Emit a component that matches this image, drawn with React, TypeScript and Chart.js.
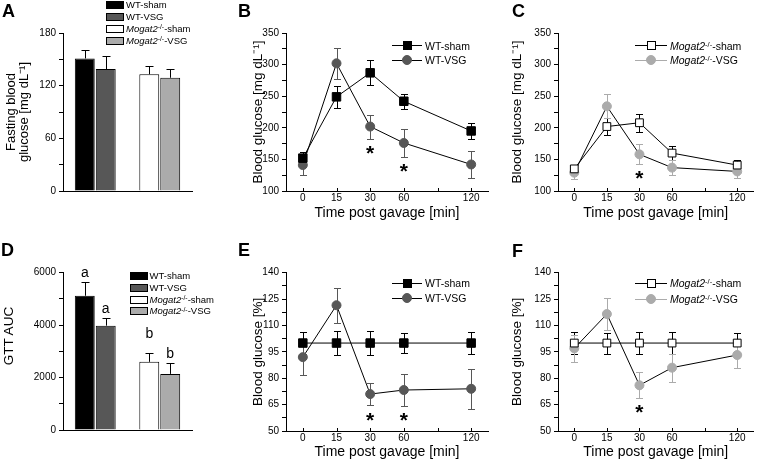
import React, { useEffect, useRef } from 'react';
import { Chart, registerables } from 'chart.js';

Chart.register(...registerables);

const FONT = '"Liberation Sans", Arial, Helvetica, sans-serif';
Chart.defaults.font.family = FONT;
Chart.defaults.color = '#000';

const DARK = '#575757';
const LIGHT = '#ababab';

// ---------- Panel A: fasting blood glucose ----------
const barGroups = ['WT', 'Mogat2-/-'];
const fastingSham = [151, 133];
const fastingShamErr = [10, 9];
const fastingVsg = [139, 129];
const fastingVsgErr = [15, 10];
const fastingTicks = [0, 30, 60, 90, 120, 150, 180];
const fastingMajor = [0, 60, 120, 180];

// ---------- Panel D: GTT AUC ----------
const aucSham = [5120, 2600];
const aucShamErr = [540, 320];
const aucVsg = [3980, 2140];
const aucVsgErr = [280, 430];
const aucShamLetters = ['a', 'b'];
const aucShamLetterY = [5850, 3500];
const aucVsgLetters = ['a', 'b'];
const aucVsgLetterY = [4450, 2760];
const aucTicks = [0, 1000, 2000, 3000, 4000, 5000, 6000];
const aucMajor = [0, 2000, 4000, 6000];

// ---------- time axis ----------
const timeLabels = ['0', '15', '30', '60', '120'];
const timeSlots = [0, 1, 2, 3, 5];
const timeTickSlots = [0, 1, 2, 3, 4, 5];

// ---------- Panel B: WT absolute ----------
const wtShamAbs = [152, 249, 287, 242, 195];
const wtShamAbsErr = [9, 17, 20, 12, 12];
const wtVsgAbs = [141, 302, 202, 176, 142];
const wtVsgAbsErr = [16, 25, 19, 22, 22];
const wtAbsStarSlots = [2, 3];
const wtAbsStarY = [169, 140];

// ---------- Panel C: Mogat2 absolute ----------
const koShamAbs = [135, 202, 208, 160, 141];
const koShamAbsErr = [6, 13, 14, 11, 8];
const koVsgAbs = [129, 234, 158, 137, 131];
const koVsgAbsErr = [10, 19, 16, 12, 10];
const koAbsStarSlots = [2];
const koAbsStarY = [129];

const absTicks = [100, 125, 150, 175, 200, 225, 250, 275, 300, 325, 350];
const absMajor = [100, 150, 200, 250, 300, 350];

// ---------- Panel E: WT percent ----------
const wtShamPct = [100, 100, 100, 100, 100];
const wtShamPctErr = [6.5, 7, 7, 5.5, 6.5];
const wtVsgPct = [92, 121.5, 71, 73.3, 74];
const wtVsgPctErr = [10, 10, 6.5, 9, 11.5];
const wtPctStarSlots = [2, 3];
const wtPctStarY = [59, 59];

// ---------- Panel F: Mogat2 percent ----------
const koShamPct = [100, 100, 100, 100, 100];
const koShamPctErr = [6.5, 6, 6.5, 6.5, 6];
const koVsgPct = [97, 116.5, 76, 86, 93.2];
const koVsgPctErr = [7.5, 9, 7.5, 8, 7.5];
const koPctStarSlots = [2];
const koPctStarY = [63.5];

const pctTicks = [50, 57.5, 65, 72.5, 80, 87.5, 95, 102.5, 110, 117.5, 125, 132.5, 140];
const pctMajor = [50, 65, 80, 95, 110, 125, 140];

// ---------- plugins ----------
function drawErrorBars(chart: any) {
  const ctx = chart.ctx;
  const yScale = chart.scales.y;
  chart.data.datasets.forEach((ds: any, i: number) => {
    if (!ds.errors) return;
    const meta = chart.getDatasetMeta(i);
    ctx.save();
    ctx.strokeStyle = ds.errColor || '#000';
    ctx.lineWidth = 1;
    meta.data.forEach((el: any, j: number) => {
      const raw = ds.data[j];
      const v = typeof raw === 'number' ? raw : raw.y;
      const e = ds.errors[j];
      const x = Math.round(el.x) + 0.5;
      const yTop = Math.round(yScale.getPixelForValue(v + e)) + 0.5;
      const yBot = ds.upOnly
        ? yScale.getPixelForValue(v)
        : Math.round(yScale.getPixelForValue(v - e)) + 0.5;
      const cap = (ds.capWidth || 7) / 2;
      ctx.beginPath();
      ctx.moveTo(x, yTop);
      ctx.lineTo(x, yBot);
      ctx.moveTo(x - cap, yTop);
      ctx.lineTo(x + cap, yTop);
      if (!ds.upOnly) {
        ctx.moveTo(x - cap, yBot);
        ctx.lineTo(x + cap, yBot);
      }
      ctx.stroke();
    });
    ctx.restore();
  });
}

const errorBarPlugin = {
  id: 'errorBars',
  beforeDatasetsDraw(chart: any, _a: any, opts: any) {
    if (opts && opts.phase === 'before') drawErrorBars(chart);
  },
  afterDatasetsDraw(chart: any, _a: any, opts: any) {
    if (!opts || opts.phase !== 'before') drawErrorBars(chart);
  },
};

const letterPlugin = {
  id: 'barLetters',
  afterDatasetsDraw(chart: any) {
    const ctx = chart.ctx;
    const yScale = chart.scales.y;
    chart.data.datasets.forEach((ds: any, i: number) => {
      if (!ds.letters) return;
      const meta = chart.getDatasetMeta(i);
      ctx.save();
      ctx.font = `14px ${FONT}`;
      ctx.fillStyle = '#000';
      ctx.textAlign = 'center';
      ctx.textBaseline = 'alphabetic';
      meta.data.forEach((el: any, j: number) => {
        ctx.fillText(ds.letters[j], el.x, yScale.getPixelForValue(ds.letterY[j]));
      });
      ctx.restore();
    });
  },
};

const starPlugin = {
  id: 'stars',
  afterDatasetsDraw(chart: any, _a: any, opts: any) {
    if (!opts || !opts.xs) return;
    const ctx = chart.ctx;
    const size = 21;
    ctx.save();
    ctx.font = `bold ${size}px ${FONT}`;
    ctx.fillStyle = '#000';
    ctx.textAlign = 'center';
    ctx.textBaseline = 'alphabetic';
    opts.xs.forEach((xv: number, i: number) => {
      const px = chart.scales.x.getPixelForValue(xv);
      const py = chart.scales.y.getPixelForValue(opts.ys[i]);
      ctx.fillText('*', px, py + size * 0.58);
    });
    ctx.restore();
  },
};

const innerTickPlugin = {
  id: 'innerXTicks',
  afterDraw(chart: any, _a: any, opts: any) {
    if (!opts || !opts.enabled) return;
    const ctx = chart.ctx;
    const xs = chart.scales.x;
    const bottom = chart.chartArea.bottom;
    ctx.save();
    ctx.strokeStyle = '#000';
    ctx.lineWidth = 1;
    ctx.beginPath();
    xs.ticks.forEach((t: any) => {
      const px = Math.round(xs.getPixelForValue(t.value)) + 0.5;
      ctx.moveTo(px, bottom);
      ctx.lineTo(px, bottom - 3);
    });
    ctx.stroke();
    ctx.restore();
  },
};

// ---------- axis builders ----------
function yAxis(o: any) {
  return {
    type: 'linear',
    min: o.min,
    max: o.max,
    afterBuildTicks: (s: any) => {
      s.ticks = o.ticks.map((v: number) => ({ value: v }));
    },
    afterFit: (s: any) => {
      s.width = o.width;
    },
    ticks: {
      autoSkip: false,
      padding: 3,
      color: '#000',
      font: { family: FONT, size: 10 },
      callback: (v: number) => (o.major.includes(v) ? String(v) : ''),
    },
    grid: {
      display: true,
      drawOnChartArea: false,
      drawTicks: true,
      tickLength: 4,
      tickColor: '#000',
      tickWidth: 1,
    },
    border: { display: true, color: '#000', width: 1 },
    title: {
      display: !!o.title,
      text: o.title || '',
      color: '#000',
      padding: 0,
      font: { family: FONT, size: o.titleSize || 13.5, lineHeight: o.titleLH || 1.2 },
    },
  };
}

const baseOptions = (padTop: number, padRight: number) => ({
  animation: false,
  responsive: false,
  maintainAspectRatio: false,
  events: [],
  layout: { padding: { top: padTop, right: padRight, left: 0, bottom: 0 } },
});

function makeBarConfig(p: any) {
  return {
    type: 'bar',
    data: {
      labels: barGroups,
      datasets: [
        {
          label: 'sham',
          data: p.sham,
          errors: p.shamErr,
          upOnly: true,
          capWidth: 8,
          errColor: '#000',
          backgroundColor: ['#000000', '#ffffff'],
          borderColor: '#000',
          borderWidth: 1,
          categoryPercentage: 0.65,
          barPercentage: 0.95,
          letters: p.shamLetters,
          letterY: p.shamLetterY,
        },
        {
          label: 'VSG',
          data: p.vsg,
          errors: p.vsgErr,
          upOnly: true,
          capWidth: 8,
          errColor: '#000',
          backgroundColor: [DARK, LIGHT],
          borderColor: '#000',
          borderWidth: 1,
          categoryPercentage: 0.65,
          barPercentage: 0.95,
          letters: p.vsgLetters,
          letterY: p.vsgLetterY,
        },
      ],
    },
    options: {
      ...baseOptions(p.padTop, p.padRight),
      plugins: { legend: { display: false }, tooltip: { enabled: false }, errorBars: { phase: 'after' } },
      scales: {
        x: {
          type: 'category',
          afterFit: (s: any) => {
            s.height = p.xHeight;
          },
          ticks: { display: false },
          grid: { display: false },
          border: { display: true, color: '#000', width: 1 },
        },
        y: yAxis({
          min: p.yMin,
          max: p.yMax,
          ticks: p.yTicks,
          major: p.yMajor,
          width: p.yWidth,
          title: p.yTitle,
          titleSize: p.titleSize,
          titleLH: p.titleLH,
        }),
      },
    },
    plugins: [errorBarPlugin, letterPlugin],
  };
}

function makeLineConfig(p: any) {
  return {
    type: 'line',
    data: {
      datasets: [
        {
          label: p.shamLabel,
          data: timeSlots.map((x, i) => ({ x, y: p.sham[i] })),
          errors: p.shamErr,
          errColor: '#000',
          capWidth: 7,
          borderColor: '#000',
          borderWidth: 1,
          pointStyle: 'rect',
          pointRadius: p.shamRadius,
          pointBackgroundColor: p.shamFill,
          pointBorderColor: '#000',
          pointBorderWidth: 1,
          tension: 0,
          fill: false,
        },
        {
          label: p.vsgLabel,
          data: timeSlots.map((x, i) => ({ x, y: p.vsg[i] })),
          errors: p.vsgErr,
          errColor: p.vsgColor,
          capWidth: 7,
          borderColor: '#000',
          borderWidth: 1,
          pointStyle: 'circle',
          pointRadius: 4.5,
          pointBackgroundColor: p.vsgColor,
          pointBorderColor: p.vsgColor,
          pointBorderWidth: 1,
          tension: 0,
          fill: false,
        },
      ],
    },
    options: {
      ...baseOptions(p.padTop, p.padRight),
      plugins: {
        legend: { display: false },
        tooltip: { enabled: false },
        errorBars: { phase: 'before' },
        stars: { xs: p.starX, ys: p.starY },
        innerXTicks: { enabled: true },
      },
      scales: {
        x: {
          type: 'linear',
          min: -0.5,
          max: 5.5,
          afterBuildTicks: (s: any) => {
            s.ticks = timeTickSlots.map((v) => ({ value: v }));
          },
          afterFit: (s: any) => {
            s.height = p.xHeight;
          },
          ticks: {
            autoSkip: false,
            padding: 1,
            color: '#000',
            font: { family: FONT, size: 10 },
            callback: (v: number) => {
              const k = timeSlots.indexOf(v);
              return k >= 0 ? timeLabels[k] : '';
            },
          },
          grid: { display: true, drawOnChartArea: false, drawTicks: false },
          border: { display: true, color: '#000', width: 1 },
          title: {
            display: true,
            text: 'Time post gavage [min]',
            color: '#000',
            padding: 0,
            font: { family: FONT, size: 14 },
          },
        },
        y: yAxis({
          min: p.yMin,
          max: p.yMax,
          ticks: p.yTicks,
          major: p.yMajor,
          width: p.yWidth,
          title: p.yTitle,
        }),
      },
    },
    plugins: [errorBarPlugin, starPlugin, innerTickPlugin],
  };
}

// ---------- components ----------
function ChartCanvas({ x, y, w, h, config }: any) {
  const ref = useRef<HTMLCanvasElement | null>(null);
  useEffect(() => {
    const chart = new Chart(ref.current as HTMLCanvasElement, config as any);
    return () => chart.destroy();
  }, []);
  return (
    <canvas
      ref={ref}
      width={w}
      height={h}
      style={{ position: 'absolute', left: x, top: y, width: w, height: h }}
    />
  );
}

const supStyle: any = { fontSize: '0.72em', position: 'relative', top: '-0.4em' };

function KoName({ suffix }: any) {
  return (
    <span>
      <i>Mogat2</i>
      <span style={supStyle}>-/-</span>
      {suffix}
    </span>
  );
}

const barLegendItems = [
  { fill: '#000000', label: <span>WT-sham</span> },
  { fill: DARK, label: <span>WT-VSG</span> },
  { fill: '#ffffff', label: <KoName suffix="-sham" /> },
  { fill: LIGHT, label: <KoName suffix="-VSG" /> },
];

function BarLegend({ boxX, textX, y0, step }: any) {
  return (
    <>
      {barLegendItems.map((it, i) => (
        <React.Fragment key={i}>
          <div
            style={{
              position: 'absolute',
              left: boxX,
              top: y0 + i * step - 4,
              width: 18,
              height: 8,
              boxSizing: 'border-box',
              border: '1px solid #000',
              background: it.fill,
            }}
          />
          <div
            style={{
              position: 'absolute',
              left: textX,
              top: y0 + i * step - 6,
              height: 12,
              lineHeight: '12px',
              fontSize: 9.5,
              fontFamily: FONT,
              whiteSpace: 'nowrap',
              color: '#000',
            }}
          >
            {it.label}
          </div>
        </React.Fragment>
      ))}
    </>
  );
}

function LineLegend({ x0, x1, textX, rows }: any) {
  const mx = (x0 + x1) / 2;
  return (
    <>
      {rows.map((r: any, i: number) => (
        <React.Fragment key={i}>
          <div
            style={{
              position: 'absolute',
              left: x0,
              top: r.y - 0.5,
              width: x1 - x0,
              height: 1,
              background: r.lineColor,
            }}
          />
          <div
            style={{
              position: 'absolute',
              left: mx - r.size / 2,
              top: r.y - r.size / 2,
              width: r.size,
              height: r.size,
              boxSizing: 'border-box',
              border: `1px solid ${r.stroke}`,
              background: r.fill,
              borderRadius: r.circle ? '50%' : 0,
            }}
          />
          <div
            style={{
              position: 'absolute',
              left: textX,
              top: r.y - 6,
              height: 12,
              lineHeight: '12px',
              fontSize: 10.5,
              fontFamily: FONT,
              whiteSpace: 'nowrap',
              color: '#000',
            }}
          >
            {r.label}
          </div>
        </React.Fragment>
      ))}
    </>
  );
}

function PanelLetter({ x, y, text }: any) {
  return (
    <div
      style={{
        position: 'absolute',
        left: x,
        top: y,
        fontFamily: FONT,
        fontWeight: 'bold',
        fontSize: 18,
        lineHeight: '20px',
        color: '#000',
      }}
    >
      {text}
    </div>
  );
}

function RotatedTitle({ cx, cy, text, size }: any) {
  return (
    <div
      style={{
        position: 'absolute',
        left: cx,
        top: cy,
        transform: 'translate(-50%, -50%) rotate(-90deg)',
        fontFamily: FONT,
        fontSize: size,
        lineHeight: '16px',
        whiteSpace: 'nowrap',
        color: '#000',
      }}
    >
      {text}
    </div>
  );
}

const absTitle = 'Blood glucose [mg dL\u207B\u00B9]';
const pctTitle = 'Blood glucose [%]';
const aucTitle = 'GTT AUC';

export default function App() {
  const cfgA = makeBarConfig({
    sham: fastingSham,
    shamErr: fastingShamErr,
    vsg: fastingVsg,
    vsgErr: fastingVsgErr,
    yMin: 0,
    yMax: 180,
    yTicks: fastingTicks,
    yMajor: fastingMajor,
    yWidth: 58,
    yTitle: ['Fasting blood', 'glucose [mg dL\u207B\u00B9]'],
    titleSize: 13,
    titleLH: 1.0,
    padTop: 33,
    padRight: 12,
    xHeight: 39,
  });
  const cfgD = makeBarConfig({
    sham: aucSham,
    shamErr: aucShamErr,
    vsg: aucVsg,
    vsgErr: aucVsgErr,
    shamLetters: aucShamLetters,
    shamLetterY: aucShamLetterY,
    vsgLetters: aucVsgLetters,
    vsgLetterY: aucVsgLetterY,
    yMin: 0,
    yMax: 6000,
    yTicks: aucTicks,
    yMajor: aucMajor,
    yWidth: 63,
    yTitle: '',
    padTop: 32.7,
    padRight: 12,
    xHeight: 31,
  });
  const cfgB = makeLineConfig({
    shamLabel: 'WT-sham',
    vsgLabel: 'WT-VSG',
    sham: wtShamAbs,
    shamErr: wtShamAbsErr,
    vsg: wtVsgAbs,
    vsgErr: wtVsgAbsErr,
    shamFill: '#000',
    shamRadius: 6,
    vsgColor: DARK,
    starX: wtAbsStarSlots,
    starY: wtAbsStarY,
    yMin: 100,
    yMax: 350,
    yTicks: absTicks,
    yMajor: absMajor,
    yWidth: 36,
    yTitle: absTitle,
    padTop: 33,
    padRight: 17,
    xHeight: 31,
  });
  const cfgC = makeLineConfig({
    shamLabel: 'Mogat2-/--sham',
    vsgLabel: 'Mogat2-/--VSG',
    sham: koShamAbs,
    shamErr: koShamAbsErr,
    vsg: koVsgAbs,
    vsgErr: koVsgAbsErr,
    shamFill: '#fff',
    shamRadius: 5.5,
    vsgColor: LIGHT,
    starX: koAbsStarSlots,
    starY: koAbsStarY,
    yMin: 100,
    yMax: 350,
    yTicks: absTicks,
    yMajor: absMajor,
    yWidth: 49,
    yTitle: absTitle,
    padTop: 33,
    padRight: 2,
    xHeight: 31,
  });
  const cfgE = makeLineConfig({
    shamLabel: 'WT-sham',
    vsgLabel: 'WT-VSG',
    sham: wtShamPct,
    shamErr: wtShamPctErr,
    vsg: wtVsgPct,
    vsgErr: wtVsgPctErr,
    shamFill: '#000',
    shamRadius: 6,
    vsgColor: DARK,
    starX: wtPctStarSlots,
    starY: wtPctStarY,
    yMin: 50,
    yMax: 140,
    yTicks: pctTicks,
    yMajor: pctMajor,
    yWidth: 36,
    yTitle: pctTitle,
    padTop: 32.7,
    padRight: 17,
    xHeight: 30,
  });
  const cfgF = makeLineConfig({
    shamLabel: 'Mogat2-/--sham',
    vsgLabel: 'Mogat2-/--VSG',
    sham: koShamPct,
    shamErr: koShamPctErr,
    vsg: koVsgPct,
    vsgErr: koVsgPctErr,
    shamFill: '#fff',
    shamRadius: 5.5,
    vsgColor: LIGHT,
    starX: koPctStarSlots,
    starY: koPctStarY,
    yMin: 50,
    yMax: 140,
    yTicks: pctTicks,
    yMajor: pctMajor,
    yWidth: 49,
    yTitle: pctTitle,
    padTop: 32.7,
    padRight: 2,
    xHeight: 30,
  });

  const wtRows = (y1: number, y2: number) => [
    { y: y1, lineColor: '#000', stroke: '#000', fill: '#000', size: 9, circle: false, label: <span>WT-sham</span> },
    { y: y2, lineColor: '#000', stroke: DARK, fill: DARK, size: 10, circle: true, label: <span>WT-VSG</span> },
  ];
  const koRows = (y1: number, y2: number) => [
    { y: y1, lineColor: '#000', stroke: '#000', fill: '#fff', size: 9, circle: false, label: <KoName suffix="-sham" /> },
    { y: y2, lineColor: LIGHT, stroke: LIGHT, fill: LIGHT, size: 10, circle: true, label: <KoName suffix="-VSG" /> },
  ];

  return (
    <div
      style={{
        position: 'absolute',
        left: 0,
        top: 0,
        width: 760,
        height: 461,
        background: '#fff',
        overflow: 'hidden',
      }}
    >
      <ChartCanvas x={5} y={0} w={199} h={230} config={cfgA} />
      <ChartCanvas x={250} y={0} w={255} h={222} config={cfgB} />
      <ChartCanvas x={509} y={0} w={251} h={222} config={cfgC} />
      <ChartCanvas x={0} y={240} w={204} h={221} config={cfgD} />
      <ChartCanvas x={250} y={240} w={255} h={221} config={cfgE} />
      <ChartCanvas x={509} y={240} w={251} h={221} config={cfgF} />

      <RotatedTitle cx={9} cy={336} text={aucTitle} size={13.5} />

      <BarLegend boxX={106} textX={126} y0={5.2} step={12} />
      <BarLegend boxX={130} textX={149.5} y0={276.2} step={11.7} />
      <LineLegend x0={392} x1={422} textX={425} rows={wtRows(45.7, 60.3)} />
      <LineLegend x0={635} x1={667} textX={670} rows={koRows(45.7, 60.3)} />
      <LineLegend x0={392} x1={422} textX={425} rows={wtRows(283.3, 298.3)} />
      <LineLegend x0={635} x1={667} textX={670} rows={koRows(283.3, 299)} />

      <PanelLetter x={2} y={1} text="A" />
      <PanelLetter x={238} y={1} text="B" />
      <PanelLetter x={512} y={1} text="C" />
      <PanelLetter x={1} y={240} text="D" />
      <PanelLetter x={238} y={240} text="E" />
      <PanelLetter x={512} y={241} text="F" />
    </div>
  );
}
